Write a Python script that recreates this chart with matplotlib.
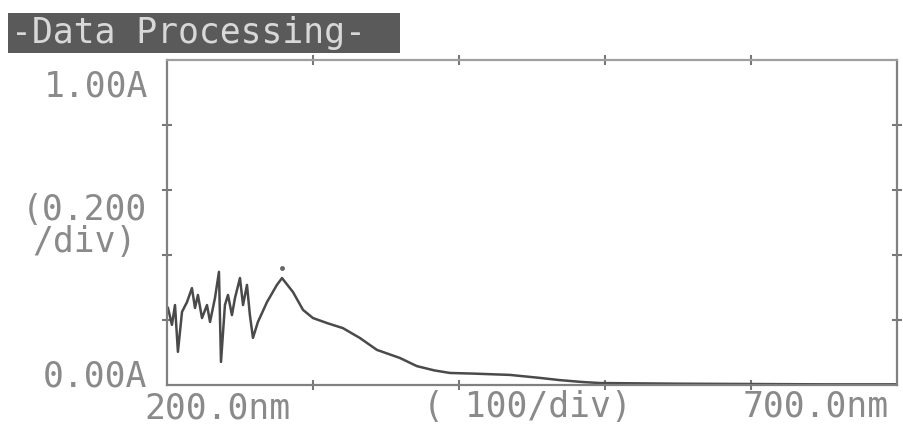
import matplotlib.pyplot as plt
from matplotlib.patches import Rectangle

# spectrum (nm, absorbance)
wavelength = [200.7, 203.4, 205.5, 207.5, 210.3, 213.7, 217.1, 219.2, 221.2, 224.0,
              227.4, 229.5, 232.9, 235.6, 237.0, 239.7, 241.8, 244.5, 246.6, 250.0,
              252.1, 254.8, 256.8, 258.9, 262.3, 268.5, 275.3, 278.8, 286.3, 293.2,
              300.0, 310.0, 320.5, 332.0, 343.8, 359.6, 371.2, 383.0, 393.8, 410.0,
              434.9, 455.0, 469.0, 485.0, 496.6, 550.0, 600.0, 650.0, 700.0]
absorbance = [0.237, 0.185, 0.246, 0.102, 0.225, 0.255, 0.298, 0.237, 0.277, 0.206,
              0.246, 0.194, 0.268, 0.348, 0.071, 0.246, 0.277, 0.215, 0.268, 0.329,
              0.246, 0.308, 0.215, 0.145, 0.194, 0.255, 0.308, 0.329, 0.286, 0.231,
              0.206, 0.190, 0.175, 0.145, 0.108, 0.083, 0.058, 0.045, 0.037, 0.035,
              0.031, 0.022, 0.015, 0.009, 0.006, 0.004, 0.003, 0.002, 0.002]

x_ticks = [300, 400, 500, 600]
y_ticks = [0.2, 0.4, 0.6, 0.8]

ink = '#8a8a8a'
mono = 'DejaVu Sans Mono'
fs = 25

fig = plt.figure(figsize=(9.04, 4.28), dpi=100)
ax = fig.add_axes([0.1847, 0.1005, 0.8075, 0.7593])

ax.plot(wavelength, absorbance, color='#4a4a4a', lw=1.8)
# peak pick mark
i_pk = absorbance.index(max(absorbance[25:]), 25)
ax.plot([wavelength[i_pk]], [absorbance[i_pk] + 0.03], marker='o', ms=2.5, color='#666666')

ax.set_xlim(200, 700)
ax.set_ylim(0, 1.0)
ax.set_xticks(x_ticks)
ax.set_yticks(y_ticks)
ax.tick_params(direction='inout', length=7, width=1.5, color='#777777',
               labelbottom=False, labelleft=False, top=True, right=True)
for s in ax.spines.values():
    s.set_color('#808080')
    s.set_linewidth(1.6)
ax.spines['top'].set_color('#a0a0a0')

# title bar
fig.patches.append(Rectangle((0.00885, 0.876), 0.4337, 0.0936, transform=fig.transFigure,
                             facecolor='#5a5a5a', edgecolor='none'))
fig.text(0.012, 0.923, '-Data Processing-', color='#d8d8d8', fontsize=25,
         family=mono, va='center', ha='left')

# axis annotations
fig.text(0.1637, 0.775, '1.00A', color=ink, fontsize=fs, family=mono, ha='right', va='baseline')
fig.text(0.1626, 0.487, '(0.200', color=ink, fontsize=fs, family=mono, ha='right', va='baseline')
fig.text(0.1515, 0.412, '/div)', color=ink, fontsize=fs, family=mono, ha='right', va='baseline')
fig.text(0.1626, 0.098, '0.00A', color=ink, fontsize=fs, family=mono, ha='right', va='baseline')
fig.text(0.160, 0.022, '200.0nm', color=ink, fontsize=fs, family=mono, ha='left', va='baseline')
fig.text(0.468, 0.026, '( 100/div)', color=ink, fontsize=fs, family=mono, ha='left', va='baseline')
fig.text(0.822, 0.026, '700.0nm', color=ink, fontsize=fs, family=mono, ha='left', va='baseline')

fig.savefig('out.png', dpi=100)
